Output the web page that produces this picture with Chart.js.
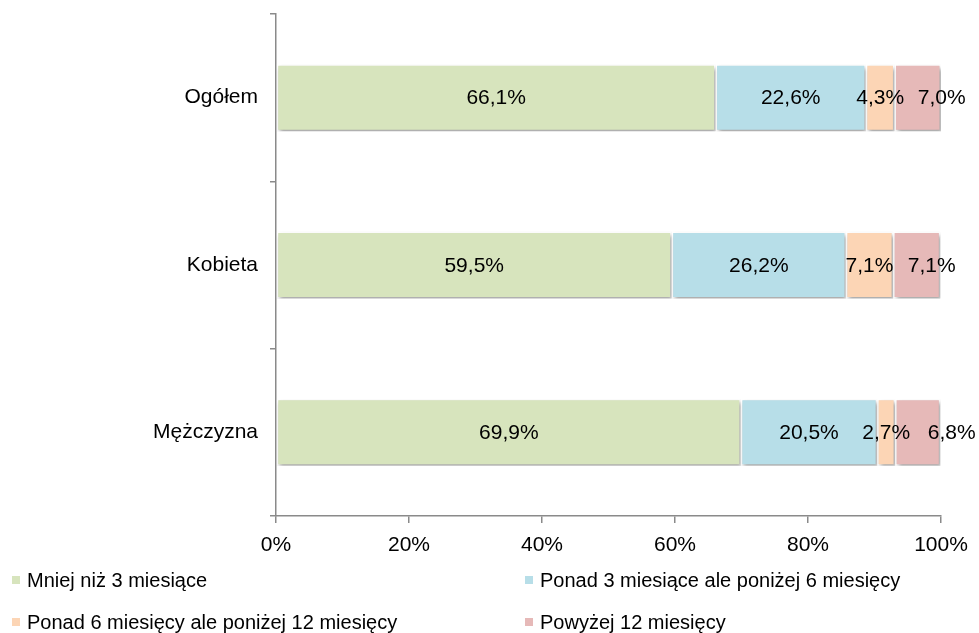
<!DOCTYPE html>
<html>
<head>
<meta charset="utf-8">
<script src="https://cdn.jsdelivr.net/npm/chart.js@4"></script>
<style>
  body { margin: 0; background: #fff; }
  .wrap { position: relative; width: 979px; height: 633px; }
  .legend { position: absolute; left: 0; top: 0; width: 979px; height: 633px; pointer-events: none;
    font-family: "Liberation Sans", Arial, sans-serif; font-size: 20px; color: #000; }
  .item { position: absolute; display: flex; align-items: center; white-space: nowrap; height: 24px; }
  .item span.box { width: 8px; height: 8px; margin-right: 7px; display: inline-block; }
</style>
</head>
<body>
<div class="wrap">
  <canvas id="myChart" width="979" height="633"></canvas>
  <div class="legend" id="legend"></div>
</div>
<script>
//data
const categories = ["Ogółem", "Kobieta", "Mężczyzna"];
const seriesNames = [
  "Mniej niż 3 miesiące",
  "Ponad 3 miesiące ale poniżej 6 miesięcy",
  "Ponad 6 miesięcy ale poniżej 12 miesięcy",
  "Powyżej 12 miesięcy",
];
const lessThan3 = [66.1, 59.5, 69.9];
const from3to6 = [22.6, 26.2, 20.5];
const from6to12 = [4.3, 7.1, 2.7];
const over12 = [7.0, 7.1, 6.8];
const xTicks = [0, 20, 40, 60, 80, 100];
const colors = ["#d7e4bd", "#b7dee8", "#fcd5b5", "#e6b9b8"];

const seriesValues = [lessThan3, from3to6, from6to12, over12];
const fontFamily = '"Liberation Sans", Arial, sans-serif';

//shadow under bars
const barShadow = {
  id: "barShadow",
  beforeDatasetsDraw(chart) {
    const c = chart.ctx;
    c.save();
    c.shadowColor = "rgba(0,0,0,0.35)";
    c.shadowBlur = 4;
    c.shadowOffsetX = 2;
    c.shadowOffsetY = 3;
  },
  afterDatasetsDraw(chart) {
    chart.ctx.restore();
  },
};

//value labels in the middle of each piece
//(the last piece is narrow, its label is pushed right so it does not cover the one before)
const lastShift = [24, 15, 34];
const valueLabels = {
  id: "valueLabels",
  afterDatasetsDraw(chart) {
    const c = chart.ctx;
    const last = chart.data.datasets.length - 1;
    c.save();
    c.font = "21px " + fontFamily;
    c.fillStyle = "#000";
    c.textAlign = "center";
    c.textBaseline = "middle";
    chart.data.datasets.forEach((ds, i) => {
      chart.getDatasetMeta(i).data.forEach((bar, j) => {
        const p = bar.getCenterPoint();
        const dx = i === last ? lastShift[j] : 0;
        c.fillText(ds.data[j].toFixed(1).replace(".", ",") + "%", p.x + dx, p.y + 1);
      });
    });
    c.restore();
  },
};

const ctx = document.getElementById("myChart").getContext("2d");
const myChart = new Chart(ctx, {
  type: "bar",
  data: {
    labels: categories,
    datasets: seriesNames.map((name, i) => ({
      label: name,
      data: seriesValues[i],
      backgroundColor: colors[i],
      borderColor: "#ffffff",
      borderWidth: 1.5,
      borderSkipped: false,
      categoryPercentage: 1,
      barPercentage: 0.4,
    })),
  },
  options: {
    indexAxis: "y",
    responsive: false,
    animation: false,
    layout: { padding: { top: 14, right: 38, left: 0, bottom: 0 } },
    plugins: {
      legend: { display: false },
      tooltip: { enabled: false },
    },
    scales: {
      x: {
        stacked: true,
        min: 0,
        max: 100,
        afterBuildTicks(scale) {
          scale.ticks = xTicks.map((v) => ({ value: v }));
        },
        afterFit(scale) {
          scale.height = 117;
        },
        ticks: {
          color: "#000",
          font: { family: fontFamily, size: 21 },
          padding: 10,
          maxRotation: 0,
          callback: (v) => v + "%",
        },
        grid: {
          drawOnChartArea: false,
          drawTicks: true,
          tickLength: 7,
          color: "#8a8a8a",
          lineWidth: 1.5,
        },
        border: { color: "#8a8a8a", width: 1.5 },
      },
      y: {
        stacked: true,
        afterFit(scale) {
          scale.width = 276;
          scale.paddingTop = 0;
          scale.paddingBottom = 0;
        },
        ticks: {
          color: "#000",
          font: { family: fontFamily, size: 21 },
          padding: 12,
        },
        grid: {
          offset: true,
          drawOnChartArea: false,
          drawTicks: true,
          tickLength: 6,
          color: "#8a8a8a",
          lineWidth: 1.5,
        },
        border: { color: "#8a8a8a", width: 1.5 },
      },
    },
  },
  plugins: [barShadow, valueLabels],
});

//legend in two columns
const legendPos = [
  [12, 568],
  [525, 568],
  [12, 610],
  [525, 610],
];
const legend = document.getElementById("legend");
seriesNames.forEach((name, i) => {
  const item = document.createElement("div");
  item.className = "item";
  item.style.left = legendPos[i][0] + "px";
  item.style.top = legendPos[i][1] + "px";
  item.innerHTML = '<span class="box" style="background:' + colors[i] + '"></span>' + name;
  legend.appendChild(item);
});
</script>
</body>
</html>
